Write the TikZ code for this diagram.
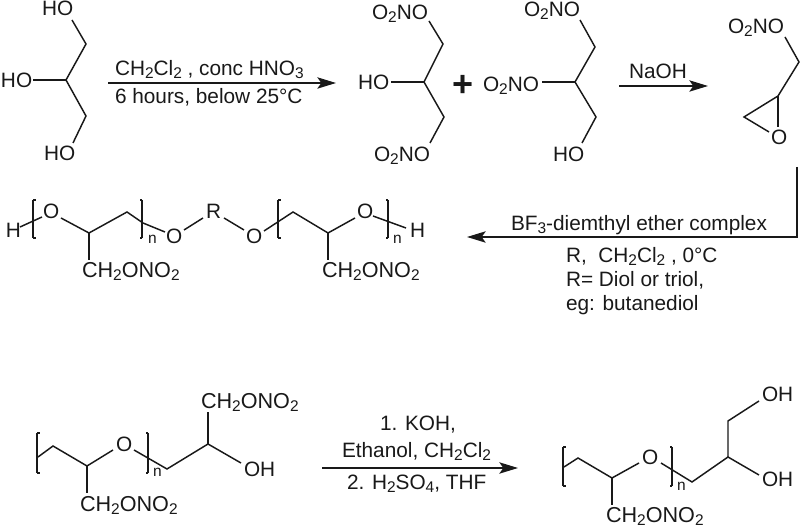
\documentclass[tikz,border=0pt]{standalone}
\usepackage{fontspec}
\setmainfont{Liberation Sans}
\usetikzlibrary{arrows.meta}
\definecolor{ink}{gray}{0.1}
\newcommand\chs[1]{\raisebox{-2.2pt}{\fontsize{11.6pt}{11.6pt}\selectfont #1}}
\newcommand\brkL[3]{\draw[bond] (#1,#2) -- (#1,#3);\draw[tick] (#1,#2) -- ++(2.5,0);\draw[tick] (#1,#3) -- ++(2.5,0);}
\newcommand\brkR[3]{\draw[bond] (#1,#2) -- (#1,#3);\draw[tick] (#1,#2) -- ++(-2.5,0);\draw[tick] (#1,#3) -- ++(-2.5,0);}
\tikzset{
  lbl/.style={anchor=base west,inner sep=0pt,outer sep=0pt,text=ink,font=\fontsize{15.6pt}{18pt}\selectfont},
  grp/.style={lbl,font=\fontsize{16.2pt}{18pt}\selectfont},
  idx/.style={lbl,font=\fontsize{11.6pt}{13pt}\selectfont},
  bond/.style={draw=ink,line width=1.1pt,line join=miter},
  tick/.style={draw=ink,line width=1.9pt},
  rxn/.style={draw=ink,line width=1.1pt,-{Stealth[length=14pt,width=8.5pt,inset=3pt]}},
}
\begin{document}
\begin{tikzpicture}[x=0.75pt,y=-0.75pt]
\path[use as bounding box,fill=white] (0,0) rectangle (800,530);

% --- glycerol
\node[lbl] (g1) at (42,16) {HO};
\node[lbl] (g2) at (1,88) {HO};
\node[lbl] (g3) at (44,161) {HO};
\coordinate (ga) at (72,20); \coordinate (gb) at (86,44); \coordinate (gc) at (66,80);
\coordinate (gd) at (86,116); \coordinate (ge) at (73,143); \coordinate (gf) at (33,80);
\draw[bond] (ga) -- (gb) -- (gc) -- (gd) -- (ge);
\draw[bond] (gf) -- (gc);

% --- arrow 1
\coordinate (a1s) at (108,83); \coordinate (a1e) at (336,83);
\draw[rxn] (a1s) -- (a1e);
\node[lbl] (t1a) at (115,76) {CH\chs{2}Cl\chs{2} , conc HNO\chs{3}};
\node[lbl] (t1b) at (115,104) {6 hours, below 25°C};

% --- 1,3-dinitrate
\node[lbl] (d1) at (372,20) {O\chs{2}NO};
\node[lbl] (d2) at (358,90) {HO};
\node[lbl] (d3) at (374,162) {O\chs{2}NO};
\coordinate (da) at (429,21); \coordinate (db) at (443,44); \coordinate (dc) at (424,82);
\coordinate (dd) at (444,117); \coordinate (de) at (430,143); \coordinate (df) at (391,82);
\draw[bond] (da) -- (db) -- (dc) -- (dd) -- (de);
\draw[bond] (df) -- (dc);

\node[anchor=center,inner sep=0pt,text=ink,font=\fontsize{27pt}{27pt}\selectfont\bfseries] (plus) at (463,85.5) {+};

% --- 1,2-dinitrate
\node[lbl] (e1) at (524,17) {O\chs{2}NO};
\node[lbl] (e2) at (483,92) {O\chs{2}NO};
\node[lbl] (e3) at (553,162) {HO};
\coordinate (ea) at (580,20); \coordinate (eb) at (595,47); \coordinate (ec) at (575,82);
\coordinate (ed) at (596,117); \coordinate (ee) at (582,143); \coordinate (ef) at (542,82);
\draw[bond] (ea) -- (eb) -- (ec) -- (ed) -- (ee);
\draw[bond] (ef) -- (ec);

% --- arrow NaOH
\coordinate (a2s) at (619,86); \coordinate (a2e) at (708,86);
\draw[rxn] (a2s) -- (a2e);
\node[lbl] (t2) at (629,79) {NaOH};

% --- glycidyl nitrate
\node[lbl] (f1) at (728,34) {O\chs{2}NO};
\node[lbl] (f2) at (771,145) {O};
\coordinate (fa) at (785,37); \coordinate (fb) at (799,62); \coordinate (fc) at (778,96);
\coordinate (fd) at (744,117); \coordinate (fe) at (769,132); \coordinate (ff) at (778,127);
\draw[bond] (fa) -- (fb) -- (fc) -- (fd) -- (fe);
\draw[bond] (fc) -- (ff);

% --- long arrow
\coordinate (a3s) at (797,167); \coordinate (a3c) at (797,237); \coordinate (a3e) at (467,237);
\draw[rxn] (a3s) -- (a3c) -- (a3e);
\node[lbl] (t3a) at (511,231) {BF\chs{3}-diemthyl ether complex};
\node[lbl] (t3b) at (566,263) {R,\ \ CH\chs{2}Cl\chs{2} , 0°C};
\node[lbl] (t3c) at (566,287) {R= Diol or triol,};
\node[lbl] (t3d) at (566,311) {eg: butanediol};

% --- polymer row
\node[lbl] (p1) at (6,238) {H};
\node[lbl] (p2) at (43,219) {O};
\node[lbl] (p3) at (166,244) {O};
\node[lbl] (p4) at (206,219) {R};
\node[lbl] (p5) at (246,244) {O};
\node[lbl] (p6) at (357,219) {O};
\node[lbl] (p7) at (410,238) {H};
\node[grp] (p8) at (82,278) {CH\chs{2}ONO\chs{2}};
\node[grp] (p9) at (322,278) {CH\chs{2}ONO\chs{2}};
\node[idx] (pn1) at (148,244) {n};
\node[idx] (pn2) at (393,244) {n};
\coordinate (qa) at (20,227); \coordinate (qb) at (42,217);
\coordinate (qc) at (61,218); \coordinate (qd) at (89,233); \coordinate (qe) at (127,212);
\coordinate (qf) at (143,223); \coordinate (qg) at (165,232); \coordinate (qh) at (89,260);
\coordinate (qi) at (184,230); \coordinate (qj) at (203,218);
\coordinate (qk) at (224,218); \coordinate (ql) at (244,230);
\coordinate (qm) at (264,231); \coordinate (qn) at (293,212); \coordinate (qo) at (328,233);
\coordinate (qp) at (355,218); \coordinate (qq) at (328,260);
\coordinate (qr) at (373,216); \coordinate (qs) at (406,228);
\draw[bond] (qa) -- (qb);
\draw[bond] (qc) -- (qd) -- (qe) -- (qf) -- (qg);
\draw[bond] (qd) -- (qh);
\draw[bond] (qi) -- (qj);
\draw[bond] (qk) -- (ql);
\draw[bond] (qm) -- (qn) -- (qo) -- (qp);
\draw[bond] (qo) -- (qq);
\draw[bond] (qr) -- (qs);
\brkL{33}{200}{238}
\brkR{142}{200}{238}
\brkL{278}{200}{238}
\brkR{388}{200}{238}

% --- bottom left polymer
\node[lbl] (r1) at (116,452) {O};
\node[lbl] (r2) at (244,477) {OH};
\node[grp] (r3) at (201,409) {CH\chs{2}ONO\chs{2}};
\node[grp] (r4) at (80,512) {CH\chs{2}ONO\chs{2}};
\node[idx] (rn) at (153,477) {n};
\coordinate (sa) at (38,457); \coordinate (sb) at (53,446); \coordinate (sc) at (87,466);
\coordinate (sd) at (113,450); \coordinate (se) at (134,450); \coordinate (sf) at (167,469);
\coordinate (sg) at (208,444); \coordinate (sh) at (241,463); \coordinate (si) at (208,412);
\coordinate (sj) at (87,493);
\draw[bond] (sa) -- (sb) -- (sc) -- (sd);
\draw[bond] (se) -- (sf) -- (sg) -- (sh);
\draw[bond] (sg) -- (si);
\draw[bond] (sc) -- (sj);
\brkL{37}{433}{473}
\brkR{148}{433}{473}

% --- arrow bottom
\coordinate (a4s) at (322,468); \coordinate (a4e) at (518,468);
\draw[rxn] (a4s) -- (a4e);
\node[lbl] (t4a) at (380,431) {1. KOH,};
\node[lbl] (t4b) at (342,458) {Ethanol, CH\chs{2}Cl\chs{2}};
\node[lbl] (t4c) at (347,490) {2. H\chs{2}SO\chs{4}, THF};

% --- bottom right polymer
\node[lbl] (u1) at (642,465) {O};
\node[lbl] (u2) at (762,402) {OH};
\node[lbl] (u3) at (762,487) {OH};
\node[grp] (u4) at (606,523) {CH\chs{2}ONO\chs{2}};
\node[idx] (un) at (677,491) {n};
\coordinate (va) at (564,467); \coordinate (vb) at (578,458); \coordinate (vc) at (612,478);
\coordinate (vd) at (639,463); \coordinate (ve) at (661,463); \coordinate (vf) at (692,482);
\coordinate (vg) at (728,457); \coordinate (vh) at (759,475); \coordinate (vi) at (728,421);
\coordinate (vj) at (759,401); \coordinate (vk) at (612,505);
\draw[bond] (va) -- (vb) -- (vc) -- (vd);
\draw[bond] (ve) -- (vf) -- (vg) -- (vh);
\draw[bond] (vg) -- (vi) -- (vj);
\draw[bond] (vc) -- (vk);
\brkL{563}{447}{486}
\brkR{672}{447}{486}
\end{tikzpicture}
\end{document}
